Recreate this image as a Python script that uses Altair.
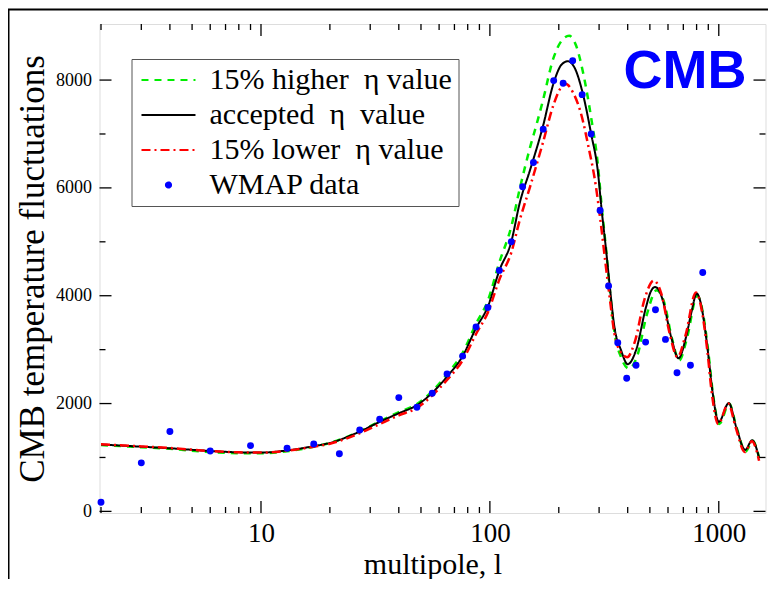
import altair as alt
import pandas as pd

# ---------------- data ----------------
SER_HI = "15% higher\u00a0 η value"
SER_ACC = "accepted\u00a0 η\u00a0 value"
SER_LO = "15% lower\u00a0 η value"
SER_W = "WMAP data"
SERIES = [SER_HI, SER_ACC, SER_LO, SER_W]

L_acc = [2, 3, 4, 6, 8, 10, 13, 17, 20, 27, 33, 40, 48, 56, 65, 76, 87, 98, 110, 124, 135, 150, 170,
         190, 205, 219, 235, 255, 277, 296, 308, 322, 333, 350, 374, 400, 435, 481, 505, 527, 548, 569,
         619, 667, 720, 760, 801, 830, 851, 895, 941, 1000, 1106, 1191, 1304, 1399, 1500]
V_acc = [1240, 1200, 1170, 1120, 1095, 1090, 1130, 1210, 1270, 1480, 1660, 1820, 1970, 2200, 2500, 2880,
         3400, 3800, 4470, 5000, 5720, 6340, 7120, 7950, 8280, 8350, 8220, 7740, 7000, 6320, 5580, 4840,
         4230, 3420, 2990, 2730, 2990, 3790, 4080, 4160, 4100, 3920, 3240, 2840, 3240, 3700, 4040, 3900,
         3670, 2990, 2190, 1660, 2010, 1570, 1140, 1320, 990]

L_hi = [2, 3, 4, 6, 8, 10, 13, 17, 20, 27, 33, 40, 48, 56, 65, 76, 87, 98, 110, 124, 135, 150, 160, 170,
        190, 205, 222, 238, 255, 277, 296, 308, 322, 333, 350, 374, 405, 440, 485, 535, 575, 625, 672,
        725, 805, 855, 900, 945, 1005, 1110, 1195, 1310, 1405, 1500]
V_hi = [1230, 1190, 1160, 1100, 1080, 1080, 1115, 1200, 1270, 1485, 1670, 1840, 1990, 2230, 2545, 2940,
        3480, 3910, 4620, 5280, 5980, 6760, 7180, 7600, 8420, 8720, 8820, 8640, 8150, 7300, 6450, 5650,
        4850, 4180, 3330, 2860, 2650, 2880, 3650, 4100, 3900, 3200, 2800, 3200, 4000, 3650, 2960, 2150,
        1620, 2000, 1560, 1110, 1310, 1000]

L_lo = [2, 3, 4, 6, 8, 10, 13, 17, 20, 27, 33, 40, 48, 56, 65, 76, 87, 98, 110, 124, 135, 150, 170, 190,
        205, 214, 230, 250, 270, 290, 305, 320, 333, 350, 372, 398, 430, 475, 520, 560, 610, 660, 715,
        795, 845, 890, 935, 995, 1100, 1185, 1300, 1395, 1500]
V_lo = [1245, 1205, 1175, 1120, 1095, 1090, 1125, 1200, 1255, 1450, 1620, 1780, 1920, 2150, 2440, 2800,
        3290, 3690, 4300, 4800, 5400, 6030, 6820, 7550, 7870, 7930, 7780, 7380, 6750, 6050, 5350, 4600,
        4000, 3300, 2960, 2860, 3150, 3950, 4280, 4050, 3300, 2860, 3260, 4060, 3700, 3000, 2150, 1620,
        2000, 1560, 1100, 1300, 940]

L_w = [2, 3, 4, 6, 9, 13, 17, 22, 27, 33, 40, 48, 56, 65, 76, 87, 98, 110, 124, 139, 155, 171, 190, 209,
       230, 253, 277, 303, 330, 362, 396, 435, 479, 529, 585, 657, 752, 851]
V_w = [170, 900, 1480, 1120, 1220, 1170, 1250, 1070, 1510, 1710, 2110, 1930, 2190, 2550, 2880, 3420,
       3780, 4470, 5000, 6020, 6470, 7090, 7990, 7940, 8360, 7730, 7000, 5580, 4180, 3130, 2470, 2710,
       3140, 3740, 3190, 2570, 2710, 4430]

X_MAJOR = [10, 100, 1000]
X_MINOR = [2, 3, 4, 5, 6, 7, 8, 9, 20, 30, 40, 50, 60, 70, 80, 90, 200, 300, 400, 500, 600, 700, 800, 900]
Y_MAJOR = [0, 2000, 4000, 6000, 8000]
Y_MINOR = [1000, 3000, 5000, 7000]

# ---------------- styling ----------------
W, H = 666, 489
COLORS = ["#00ee00", "#000000", "#ff0000", "#0000ff"]
DASHES = [[7, 6], [1, 0], [9, 4, 2, 4], [1, 0]]
LINE_PATH = "M-3.67,0H14.33"
DOT_PATH = "M4.48,0A0.85,0.85,0,1,0,6.18,0A0.85,0.85,0,1,0,4.48,0Z"
SHAPES = [LINE_PATH, LINE_PATH, LINE_PATH, DOT_PATH]

def mk(ls, vs, name):
    return pd.DataFrame({"l": ls, "val": vs, "series": name})

df_hi = mk(L_hi, V_hi, SER_HI)
df_acc = mk(L_acc, V_acc, SER_ACC)
df_lo = mk(L_lo, V_lo, SER_LO)
df_w = mk(L_w, V_w, SER_W)

xscale = alt.Scale(type="log", domain=[1.97, 1600], nice=False)
yscale = alt.Scale(domain=[-30, 9040], nice=False, zero=False)

xaxis = alt.Axis(values=X_MAJOR, format="d", ticks=False, tickSize=0, domain=False, grid=False,
                 labelFont="Liberation Serif", labelFontSize=27, labelColor="black", labelPadding=7,
                 labelFlush=False, labelOverlap=False,
                 title="multipole, l", titleFont="Liberation Serif", titleFontSize=30,
                 titleFontWeight="normal", titleColor="black", titleX=333, titleY=60,
                 titleBaseline="alphabetic", titleAlign="center")
yaxis = alt.Axis(values=Y_MAJOR, format="d", ticks=False, tickSize=0, domain=False, grid=False,
                 labelFont="Liberation Serif", labelFontSize=18, labelColor="black", labelPadding=8,
                 labelFlush=False, labelOverlap=False,
                 title="CMB temperature fluctuations", titleFont="Liberation Serif", titleFontSize=35,
                 titleFontWeight="normal", titleColor="black", titleAngle=270, titleX=-56, titleY=244.5,
                 titleBaseline="alphabetic", titleAlign="center")

X = alt.X("l:Q", scale=xscale, axis=xaxis)
Y = alt.Y("val:Q", scale=yscale, axis=yaxis)

legend = alt.Legend(title=None, orient="none", legendX=32, legendY=35, fillColor="white",
                    strokeColor="#555555", padding=6, labelFont="Liberation Serif", labelFontSize=30,
                    labelColor="black", labelLimit=0, rowPadding=5, symbolStrokeWidth=2,
                    labelOffset=42)

color = alt.Color("series:N", scale=alt.Scale(domain=SERIES, range=COLORS), legend=legend)
dash = alt.StrokeDash("series:N", scale=alt.Scale(domain=SERIES, range=DASHES), legend=legend)
shape = alt.Shape("series:N", scale=alt.Scale(domain=SERIES, range=SHAPES), legend=legend)
size = alt.Size("series:N", scale=alt.Scale(domain=SERIES, range=[36, 36, 36, 36]), legend=legend)

def line_layer(df, width):
    return alt.Chart(df).mark_line(strokeWidth=width, interpolate="monotone").encode(
        x=X, y=Y, color=color, strokeDash=dash)

layers = [
    line_layer(df_hi, 2.5),
    line_layer(df_acc, 2.0),
    line_layer(df_lo, 2.5),
    alt.Chart(df_w).mark_circle(size=48, opacity=1).encode(x=X, y=Y, color=color),
    alt.Chart(df_w).transform_filter("datum.l < 0").mark_point(filled=False).encode(
        x=X, y=Y, color=color, shape=shape, size=size),
]

def xticks(vals, length):
    d = pd.DataFrame({"l": vals})
    b = alt.Chart(d).mark_rule(color="black", strokeWidth=1.3)
    return [b.encode(x=X, y=alt.value(H), y2=alt.value(H - length)),
            b.encode(x=X, y=alt.value(0), y2=alt.value(length))]

def yticks(vals, length):
    d = pd.DataFrame({"val": vals})
    b = alt.Chart(d).mark_rule(color="black", strokeWidth=1.3)
    return [b.encode(y=Y, x=alt.value(0), x2=alt.value(length)),
            b.encode(y=Y, x=alt.value(W - length), x2=alt.value(W))]

layers += xticks(X_MAJOR, 12) + xticks(X_MINOR, 6) + yticks(Y_MAJOR, 12) + yticks(Y_MINOR, 6)

one = pd.DataFrame({"k": [0]})
layers.append(alt.Chart(one).mark_text(text="CMB", font="Liberation Sans", fontWeight="bold",
                                       fontSize=54, color="#0000ff", align="center",
                                       baseline="alphabetic").encode(x=alt.value(585.5), y=alt.value(64.3)))
layers.append(alt.Chart(one).mark_rect(filled=False, stroke="black", strokeWidth=2, fillOpacity=0).encode(
    x=alt.value(-91), x2=alt.value(W + 30), y=alt.value(-14.5), y2=alt.value(H + 120)))

chart = alt.layer(*layers).properties(
    width=W, height=H,
    padding={"left": 91.5, "top": 16, "right": 2, "bottom": 66},
    autosize=alt.AutoSizeParams(type="none"),
).configure_view(stroke="black", strokeWidth=2).configure(background="white")

chart.save("out.html", embed_options={"renderer": "svg", "actions": False})
